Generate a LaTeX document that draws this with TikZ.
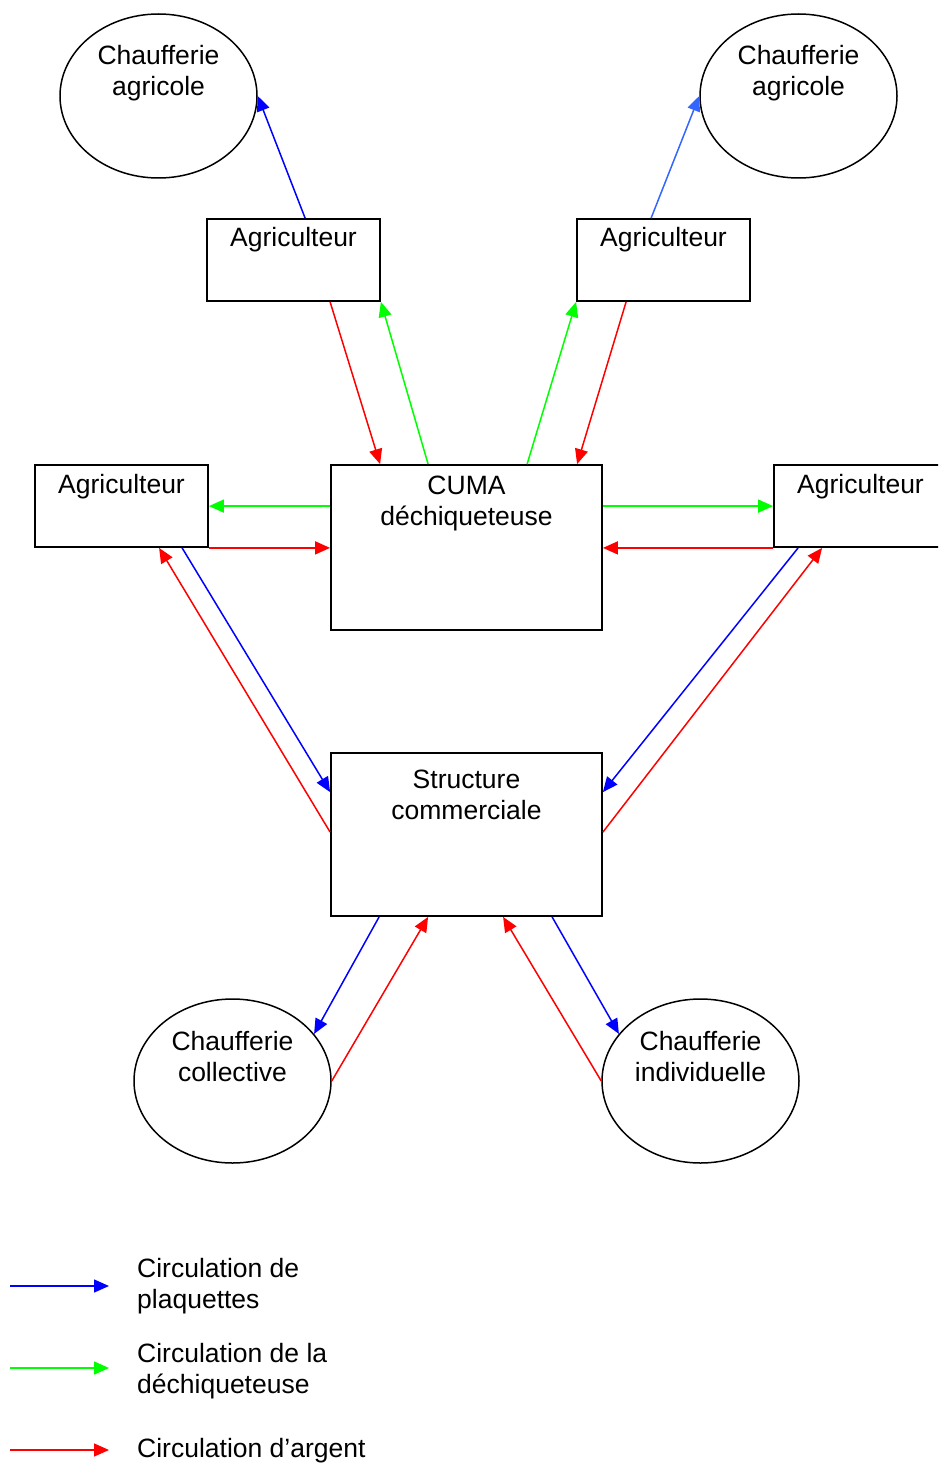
\documentclass[tikz,border=0pt]{standalone}
\usepackage{fontspec}
\setmainfont{Liberation Sans}
\usetikzlibrary{arrows.meta,shapes.geometric,calc}
\definecolor{pblue}{RGB}{0,0,255}
\definecolor{lblue}{RGB}{51,102,255}
\definecolor{pgreen}{RGB}{0,255,0}
\definecolor{pred}{RGB}{255,0,0}
\tikzset{
  box/.style={draw=black,line width=1.8pt,rectangle,inner sep=0pt},
  oval/.style={draw=black,line width=1.5pt,ellipse,inner sep=0pt,minimum width=197pt,minimum height=164pt},
  txt/.style={font=\fontsize{26.5}{31}\selectfont,align=center,inner sep=0pt,anchor=base},
  ltxt/.style={font=\fontsize{26.5}{31}\selectfont,align=left,inner sep=0pt,anchor=base west},
  flow/.style={line width=1.5pt,-{Triangle[length=15pt,width=13pt]}},
}
\begin{document}
\begin{tikzpicture}[x=1pt,y=-1pt]
\useasboundingbox (0,0) rectangle (938,1463);
\clip (0,0) rectangle (938,1463);
% shapes
\node[oval] (ellTL) at (158.5,96) {};
\node[oval] (ellTR) at (798.5,96) {};
\node[box,minimum width=173pt,minimum height=82pt] (agTL) at (293.5,260) {};
\node[box,minimum width=173pt,minimum height=82pt] (agTR) at (663.5,260) {};
\node[box,minimum width=173pt,minimum height=82pt] (agL) at (121.5,506) {};
\node[box,minimum width=173pt,minimum height=82pt] (agR) at (860.5,506) {};
\node[box,minimum width=271pt,minimum height=165pt] (cuma) at (466.5,547.5) {};
\node[box,minimum width=271pt,minimum height=163pt] (sc) at (466.5,834.5) {};
\node[oval] (ellC) at (232.5,1081) {};
\node[oval] (ellI) at (700.5,1081) {};
% texts
\node[txt] (tTL1) at (158.5,65) {Chaufferie};
\node[txt] (tTL2) at (158.5,96) {agricole};
\node[txt] (tTR1) at (798.5,65) {Chaufferie};
\node[txt] (tTR2) at (798.5,96) {agricole};
\node[txt] (tagTL) at (293.5,247) {Agriculteur};
\node[txt] (tagTR) at (663.5,247) {Agriculteur};
\node[txt] (tagL) at (121.5,493) {Agriculteur};
\node[txt] (tagR) at (860.5,493) {Agriculteur};
\node[txt] (tcu1) at (466.5,494) {CUMA};
\node[txt] (tcu2) at (466.5,525) {déchiqueteuse};
\node[txt] (tsc1) at (466.5,788) {Structure};
\node[txt] (tsc2) at (466.5,819) {commerciale};
\node[txt] (tC1) at (232.5,1050) {Chaufferie};
\node[txt] (tC2) at (232.5,1081) {collective};
\node[txt] (tI1) at (700.5,1050) {Chaufferie};
\node[txt] (tI2) at (700.5,1081) {individuelle};
% connectors
\draw[flow,pblue] ($(agTL.north west)+(99,0)$) -- (ellTL.east);
\draw[flow,lblue] ($(agTR.north west)+(75,0)$) -- (ellTR.west);
\draw[flow,pred] ($(agTL.south west)+(124,0)$) -- ($(cuma.north west)+(50,0)$);
\draw[flow,pgreen] ($(cuma.north west)+(98,0)$) -- (agTL.south east);
\draw[flow,pgreen] ($(cuma.north west)+(197,0)$) -- (agTR.south west);
\draw[flow,pred] ($(agTR.south west)+(50,0)$) -- ($(cuma.north west)+(247,0)$);
\draw[flow,pgreen] ($(cuma.north west)+(0,42)$) -- ($(agL.north east)+(0,42)$);
\draw[flow,pred] (agL.south east) -- (agL.south east -| cuma.west);
\draw[flow,pgreen] ($(cuma.north east)+(0,42)$) -- ($(agR.north west)+(0,42)$);
\draw[flow,pred] (agR.south west) -- (agR.south west -| cuma.east);
\draw[flow,pblue] ($(agL.south west)+(148,0)$) -- ($(sc.north west)+(0,40)$);
\draw[flow,pred] ($(sc.north west)+(0,80)$) -- ($(agL.south west)+(125,0)$);
\draw[flow,pblue] ($(agR.south west)+(25,0)$) -- ($(sc.north east)+(0,40)$);
\draw[flow,pred] ($(sc.north east)+(0,80)$) -- ($(agR.south west)+(49,0)$);
\draw[flow,pblue] ($(sc.south west)+(49,0)$) -- (ellC.30);
\draw[flow,pred] (ellC.east) -- ($(sc.south west)+(98,0)$);
\draw[flow,pred] (ellI.west) -- ($(sc.south west)+(173,0)$);
\draw[flow,pblue] ($(sc.south west)+(222,0)$) -- (ellI.150);
% legend
\coordinate (l1a) at (10,1286); \coordinate (l1b) at (109,1286);
\coordinate (l2a) at (10,1368); \coordinate (l2b) at (109,1368);
\coordinate (l3a) at (10,1450); \coordinate (l3b) at (109,1450);
\draw[flow,pblue] (l1a) -- (l1b);
\draw[flow,pgreen] (l2a) -- (l2b);
\draw[flow,pred] (l3a) -- (l3b);
\node[ltxt] (lg1a) at (137,1277) {Circulation de};
\node[ltxt] (lg1b) at (137,1308) {plaquettes};
\node[ltxt] (lg2a) at (137,1362) {Circulation de la};
\node[ltxt] (lg2b) at (137,1393) {déchiqueteuse};
\node[ltxt] (lg3) at (137,1457) {Circulation d’argent};
\end{tikzpicture}
\end{document}
